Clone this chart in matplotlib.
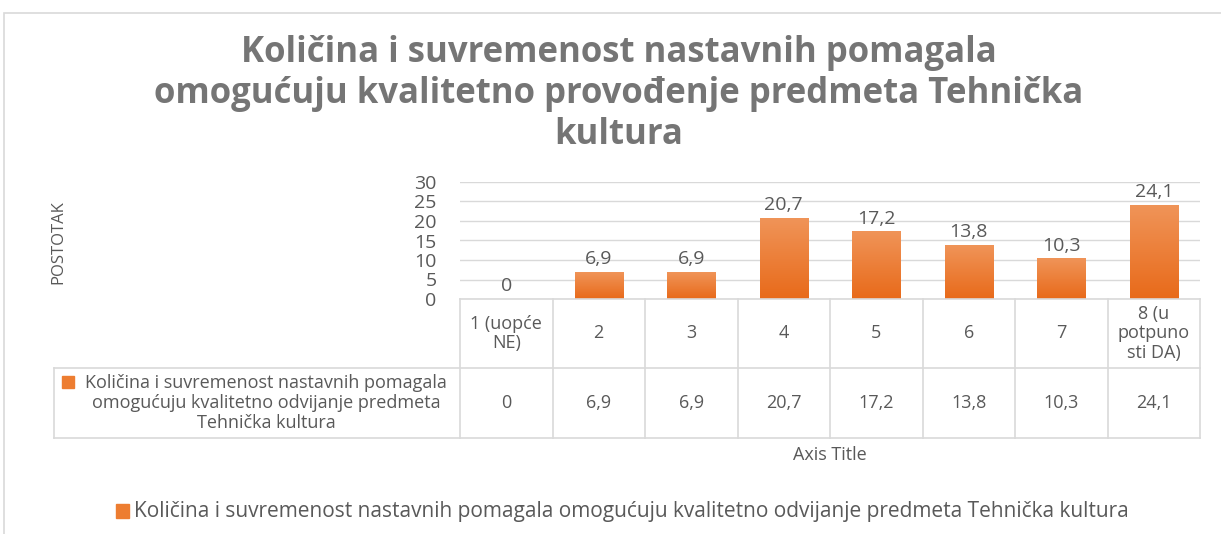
import numpy as np
import matplotlib
matplotlib.use("Agg")
import matplotlib.pyplot as plt
from matplotlib.patches import Rectangle
from matplotlib.transforms import blended_transform_factory
from matplotlib.colors import LinearSegmentedColormap

# data
categories = ["1 (uopće\nNE)", "2", "3", "4", "5", "6", "7", "8 (u\npotpuno\nsti DA)"]
values = [0, 6.9, 6.9, 20.7, 17.2, 13.8, 10.3, 24.1]
value_labels = ["0", "6,9", "6,9", "20,7", "17,2", "13,8", "10,3", "24,1"]
yticks = [0, 5, 10, 15, 20, 25, 30]

series_name = "Količina i suvremenost nastavnih pomagala omogućuju kvalitetno odvijanje predmeta Tehnička kultura"
series_name_wrapped = ("Količina i suvremenost nastavnih pomagala\n"
                       "omogućuju kvalitetno odvijanje predmeta\n"
                       "Tehnička kultura")
title = ("Količina i suvremenost nastavnih pomagala\n"
         "omogućuju kvalitetno provođenje predmeta Tehnička\n"
         "kultura")

plt.rcParams["font.family"] = ["Open Sans", "DejaVu Sans"]
text_color = "#595959"
grid_color = "#D9D9D9"

W, H = 1221, 534
fig = plt.figure(figsize=(W / 100, H / 100), dpi=100)

def fx(px):
    return px / W

def fy(py):
    return 1 - py / H

# outer chart border
fig.patches.append(Rectangle((fx(4), fy(540)), fx(1230), fy(13) - fy(540),
                             transform=fig.transFigure, fill=False,
                             edgecolor=grid_color, linewidth=1.2))

fig.text(fx(619), fy(94), title, ha="center", va="center", fontsize=25,
         fontweight="bold", color="#757575", linespacing=1.2)

ax = fig.add_axes([fx(460), fy(299), fx(1200) - fx(460), fy(182) - fy(299)])
x = np.arange(len(values))
bar_w = 0.52
bars = ax.bar(x, values, width=bar_w, color="#ED7D31", zorder=2)

# vertical gradient on each bar
cmap = LinearSegmentedColormap.from_list("og", ["#E86A1A", "#F09458"])
grad = np.linspace(0, 1, 100).reshape(-1, 1)
for b in bars:
    if b.get_height() > 0:
        ax.imshow(grad, cmap=cmap, aspect="auto", origin="lower", zorder=3,
                  extent=[b.get_x(), b.get_x() + b.get_width(), 0, b.get_height()])

for xi, v, lab in zip(x, values, value_labels):
    ax.text(xi, v + 1.0, lab, ha="center", va="bottom", fontsize=14,
            color=text_color, clip_on=False)

ax.set_xlim(-0.5, len(values) - 0.5)
ax.set_ylim(0, 30)
ax.set_yticks(yticks)
ax.set_yticklabels([str(t) for t in yticks], fontsize=14, color=text_color)
ax.set_xticks([])
ax.tick_params(axis="y", length=0, pad=17)
ax.grid(axis="y", color=grid_color, linewidth=1, zorder=0)
for s in ax.spines.values():
    s.set_visible(False)

fig.text(fx(58), fy(242), "POSTOTAK", rotation=90, ha="center", va="center",
         fontsize=12, color=text_color)

# data table under the axis
tr = blended_transform_factory(ax.transData, fig.transFigure)
row_top, row_mid, row_bot = fy(299), fy(368), fy(438)
left_px = 54
lkw = dict(color=grid_color, linewidth=1.2, clip_on=False)

fig.add_artist(plt.Line2D([fx(460), fx(1200)], [row_top, row_top],
                          transform=fig.transFigure, **lkw))
fig.add_artist(plt.Line2D([fx(left_px), fx(1200)], [row_mid, row_mid],
                          transform=fig.transFigure, **lkw))
fig.add_artist(plt.Line2D([fx(left_px), fx(1200)], [row_bot, row_bot],
                          transform=fig.transFigure, **lkw))
fig.add_artist(plt.Line2D([fx(left_px), fx(left_px)], [row_mid, row_bot],
                          transform=fig.transFigure, **lkw))
for b in np.arange(len(values) + 1) - 0.5:
    fig.add_artist(plt.Line2D([b, b], [row_top, row_bot], transform=tr, **lkw))

for xi, cat, lab in zip(x, categories, value_labels):
    fig.text(xi, (row_top + row_mid) / 2, cat, transform=tr, ha="center",
             va="center", fontsize=13, color=text_color, linespacing=1.1)
    fig.text(xi, (row_mid + row_bot) / 2, lab, transform=tr, ha="center",
             va="center", fontsize=13, color=text_color)

fig.text(fx(266), (row_mid + row_bot) / 2, series_name_wrapped, ha="center",
         va="center", fontsize=13, color=text_color, linespacing=1.15)
fig.patches.append(Rectangle((fx(62), fy(388)), fx(12), fy(376) - fy(388),
                             transform=fig.transFigure, color="#ED7D31"))

fig.text(fx(830), fy(455), "Axis Title", ha="center", va="center",
         fontsize=13, color=text_color)

# legend
fig.patches.append(Rectangle((fx(116), fy(518)), fx(13), fy(504) - fy(518),
                             transform=fig.transFigure, color="#ED7D31"))
fig.text(fx(134), fy(511), series_name, ha="left", va="center",
         fontsize=15, color=text_color)

fig.savefig("out.png", dpi=100)
